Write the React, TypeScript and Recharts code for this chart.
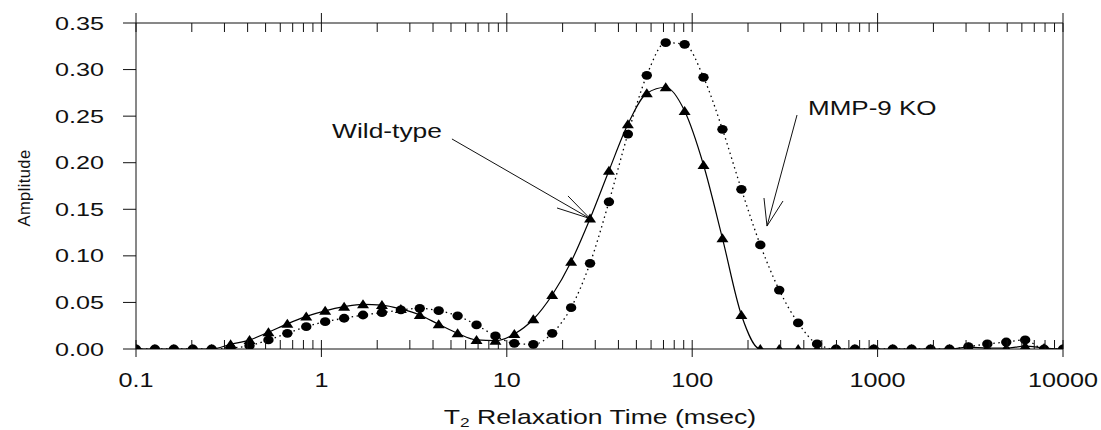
import React from 'react';
import { LineChart, Line, XAxis, YAxis, ReferenceLine } from 'recharts';

// T2 relaxation times (msec), 50 points log-spaced from 0.1 to 10000
const t2Times = [
  0.1, 0.1265, 0.16, 0.2024, 0.256, 0.3237, 0.4095, 0.518, 0.6551, 0.8286,
  1.048, 1.326, 1.677, 2.121, 2.683, 3.393, 4.292, 5.429, 6.866, 8.685,
  10.98, 13.9, 17.57, 22.23, 28.12, 35.56, 44.98, 56.9, 71.97, 91.03,
  115.1, 145.6, 184.2, 233.0, 294.7, 372.8, 471.5, 596.4, 754.3, 954.1,
  1207, 1526, 1931, 2442, 3089, 3907, 4942, 6251, 7906, 10000,
];

const wildType = [
  0, 0, 0, 0, 0, 0.005, 0.0097, 0.018, 0.027, 0.035,
  0.041, 0.0454, 0.048, 0.0472, 0.043, 0.0365, 0.0265, 0.0168, 0.0097, 0.0089,
  0.0161, 0.0319, 0.058, 0.0937, 0.14, 0.1914, 0.2412, 0.2745, 0.281, 0.2555,
  0.1975, 0.1188, 0.0365, 0, 0, 0, 0, 0, 0, 0,
  0, 0, 0, 0, 0.002, 0.001, 0.001, 0.003, 0.001, 0,
];

const mmp9Ko = [
  0, 0, 0, 0, 0, 0.001, 0.0036, 0.0097, 0.0168, 0.024,
  0.0293, 0.033, 0.0365, 0.039, 0.0419, 0.0437, 0.0411, 0.0356, 0.0258, 0.014,
  0.0061, 0.005, 0.0168, 0.0444, 0.092, 0.158, 0.2308, 0.2938, 0.3289, 0.3271,
  0.2917, 0.2358, 0.1714, 0.1117, 0.0633, 0.028, 0.0054, 0, 0, 0,
  0, 0, 0, 0, 0.0025, 0.0054, 0.0075, 0.0097, 0, 0,
];

const majorTicks = [0.1, 1, 10, 100, 1000, 10000];
const xTicks = [
  0.1, 0.2, 0.3, 0.4, 0.5, 0.6, 0.7, 0.8, 0.9,
  1, 2, 3, 4, 5, 6, 7, 8, 9,
  10, 20, 30, 40, 50, 60, 70, 80, 90,
  100, 200, 300, 400, 500, 600, 700, 800, 900,
  1000, 2000, 3000, 4000, 5000, 6000, 7000, 8000, 9000,
  10000,
];
const yTicks = [0, 0.05, 0.1, 0.15, 0.2, 0.25, 0.3, 0.35];

// annotation arrows, in data units: shaft start, tip, two barb ends
const wtArrow = [
  { x: 5.06, y: 0.2255 },
  { x: 28.12, y: 0.14 },
  { x: 21.38, y: 0.1643 },
  { x: 18.66, y: 0.1514 },
];
const koArrow = [
  { x: 367.6, y: 0.2512 },
  { x: 253.2, y: 0.132 },
  { x: 243.9, y: 0.1621 },
  { x: 308.9, y: 0.1589 },
];

const rows = t2Times.map((t, i) => ({ t, wt: wildType[i], ko: mmp9Ko[i] }));

const FONT = '"Liberation Sans", Arial, sans-serif';
const INK = '#111';

const WideText = ({ x, y, size, sx, anchor = 'start', children }: any) => (
  <text
    transform={`translate(${x},${y}) scale(${sx},1)`}
    textAnchor={anchor}
    fontSize={size}
    fontFamily={FONT}
    fill={INK}
  >
    {children}
  </text>
);

const isMajor = (v: number) => majorTicks.includes(v);

const BottomTick = (props: any) => {
  const { x, y, payload } = props;
  const v = payload.value;
  const major = isMajor(v);
  return (
    <g>
      <line x1={x} x2={x} y1={y - 9} y2={major ? y + 8 : y} stroke={INK} />
      {major && (
        <WideText x={x} y={y + 38} size={20} sx={1.26} anchor="middle">
          {String(v)}
        </WideText>
      )}
    </g>
  );
};

const TopTick = (props: any) => {
  const { x, y, payload } = props;
  const major = isMajor(payload.value);
  return <line x1={x} x2={x} y1={major ? y - 10 : y} y2={y + 9} stroke={INK} />;
};

const LeftTick = (props: any) => {
  const { x, y, payload } = props;
  return (
    <WideText x={x} y={y + 6.5} size={18} sx={1.4} anchor="end">
      {payload.value.toFixed(2)}
    </WideText>
  );
};

const triangleDot = (p: any) => {
  if (p.cx == null || p.cy == null) return <g key={`wt-${p.index}`} />;
  const { cx, cy } = p;
  return (
    <path
      key={`wt-${p.index}`}
      d={`M${cx},${cy - 5}L${cx + 6},${cy + 4}L${cx - 6},${cy + 4}Z`}
      fill="#000"
    />
  );
};

const circleDot = (p: any) => {
  if (p.cx == null || p.cy == null) return <g key={`ko-${p.index}`} />;
  return <ellipse key={`ko-${p.index}`} cx={p.cx} cy={p.cy} rx={5.2} ry={4.4} fill="#000" />;
};

const arrowLines = (pts: { x: number; y: number }[], id: string) => [
  <ReferenceLine key={`${id}-shaft`} segment={[pts[0], pts[1]]} stroke={INK} strokeWidth={1} ifOverflow="visible" />,
  <ReferenceLine key={`${id}-b1`} segment={[pts[2], pts[1]]} stroke={INK} strokeWidth={1} ifOverflow="visible" />,
  <ReferenceLine key={`${id}-b2`} segment={[pts[3], pts[1]]} stroke={INK} strokeWidth={1} ifOverflow="visible" />,
];

export default function App() {
  return (
    <div style={{ position: 'absolute', left: 0, top: 0, width: 1101, height: 430, background: '#fff' }}>
      <LineChart width={1101} height={430} data={rows} margin={{ top: 0, right: 0, bottom: 0, left: 0 }}>
        <XAxis
          dataKey="t"
          type="number"
          scale="log"
          domain={[0.1, 10000]}
          allowDataOverflow
          ticks={xTicks}
          interval={0}
          height={81}
          tickSize={0}
          tickMargin={0}
          tickLine={false}
          tick={<BottomTick />}
          axisLine={{ stroke: INK }}
        />
        <XAxis
          xAxisId="top"
          dataKey="t"
          orientation="top"
          type="number"
          scale="log"
          domain={[0.1, 10000]}
          allowDataOverflow
          ticks={xTicks}
          interval={0}
          height={23}
          tickSize={0}
          tickMargin={0}
          tickLine={false}
          tick={<TopTick />}
          axisLine={{ stroke: INK }}
        />
        <YAxis
          type="number"
          domain={[0, 0.35]}
          allowDataOverflow
          ticks={yTicks}
          interval={0}
          width={136}
          tickSize={13}
          tickMargin={19}
          tickLine={{ stroke: INK }}
          axisLine={{ stroke: INK }}
          tick={<LeftTick />}
        />
        <YAxis
          yAxisId="right"
          orientation="right"
          type="number"
          domain={[0, 0.35]}
          allowDataOverflow
          width={38}
          tick={false}
          tickLine={false}
          axisLine={{ stroke: INK }}
        />

        {/* invisible series so the top and right frame axes get drawn */}
        <Line
          xAxisId="top"
          yAxisId="right"
          dataKey="wt"
          stroke="none"
          dot={false}
          activeDot={false}
          legendType="none"
          isAnimationActive={false}
        />
        <Line
          dataKey="wt"
          type="monotone"
          stroke="#000"
          strokeWidth={1.2}
          dot={triangleDot}
          activeDot={false}
          isAnimationActive={false}
        />
        <Line
          dataKey="ko"
          type="monotone"
          stroke="#000"
          strokeWidth={1.3}
          strokeDasharray="1.5 3.5"
          dot={circleDot}
          activeDot={false}
          isAnimationActive={false}
        />

        {arrowLines(wtArrow, 'wt')}
        {arrowLines(koArrow, 'ko')}

        <WideText x={332} y={138} size={20} sx={1.32}>Wild-type</WideText>
        <WideText x={808} y={115} size={20} sx={1.3}>MMP-9 KO</WideText>
        <text
          transform="translate(30,188) rotate(-90)"
          textAnchor="middle"
          fontSize={16.5}
          fontFamily={FONT}
          fill={INK}
          letterSpacing={0.4}
        >
          Amplitude
        </text>
        <text
          transform="translate(600,424) scale(1.33,1)"
          textAnchor="middle"
          fontSize={20}
          fontFamily={FONT}
          fill={INK}
        >
          T<tspan fontSize={13} dy={3}>2</tspan>
          <tspan dy={-3}> Relaxation Time (msec)</tspan>
        </text>
      </LineChart>
    </div>
  );
}
